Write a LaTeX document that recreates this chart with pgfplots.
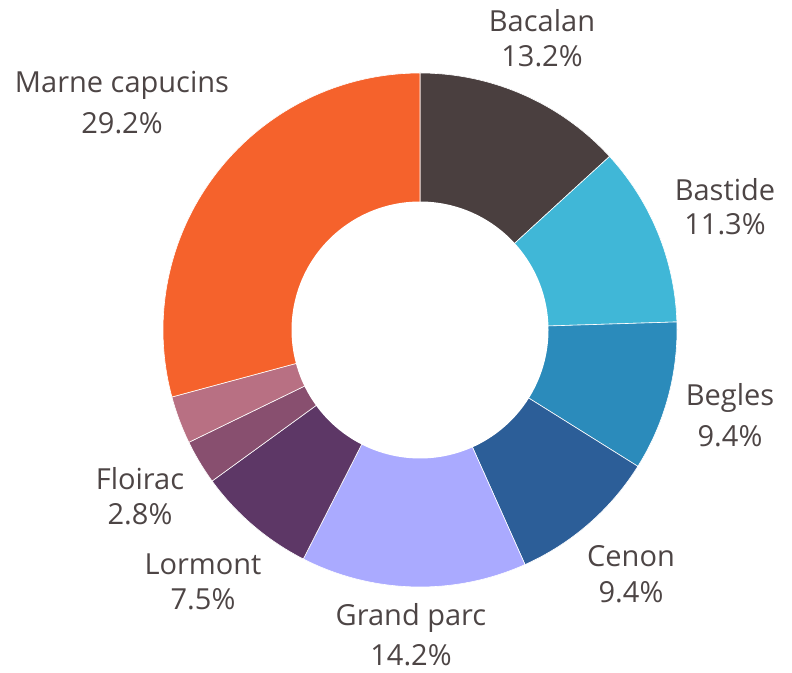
\documentclass[border=0pt]{standalone}
\usepackage{pgfplots}
\pgfplotsset{compat=1.18}
\usepackage{fontspec}
\setmainfont{Open Sans}
\definecolor{cBac}{HTML}{4A3F3F}
\definecolor{cBas}{HTML}{40B7D7}
\definecolor{cBeg}{HTML}{2B8BBB}
\definecolor{cCen}{HTML}{2C5E98}
\definecolor{cGra}{HTML}{AAAAFF}
\definecolor{cLor}{HTML}{5D3766}
\definecolor{cFlo}{HTML}{884F6F}
\definecolor{cOth}{HTML}{B87083}
\definecolor{cMar}{HTML}{F5622C}
\definecolor{txt}{HTML}{4D4545}
\begin{document}
\begin{tikzpicture}
\begin{axis}[
  scale only axis, width=396pt, height=336.5pt,
  xmin=0, xmax=792, ymin=0, ymax=673,
  axis lines=none, clip=false,
]
\path (axis cs:0,0) rectangle (axis cs:792,673);
\def\cum{0}
\foreach \v/\c in {13.2/cBac, 11.3/cBas, 9.4/cBeg, 9.4/cCen, 14.2/cGra, 7.5/cLor, 2.8/cFlo, 3.0/cOth, 29.2/cMar} {
  \pgfmathsetmacro\a{90-3.6*\cum}
  \pgfmathsetmacro\b{90-3.6*(\cum+\v)}
  \edef\tmp{\noexpand\addplot[fill=\c, draw=white, line width=0.3pt, domain=\b:\a, samples=80] ({420+257*cos(x)},{343+257*sin(x)}) -- (axis cs:420,343) -- cycle;}
  \tmp
  \pgfmathsetmacro\newcum{\cum+\v}
  \global\let\cum\newcum
}
\addplot[fill=white, draw=none, domain=0:360, samples=180] ({420+128.5*cos(x)},{343+128.5*sin(x)}) -- cycle;
\tikzset{lab/.style={anchor=base, text=txt, font=\fontsize{14.5}{17}\selectfont, inner sep=0pt}}
\node[lab] at (axis cs:542,641) {Bacalan};
\node[lab] at (axis cs:542,606) {13.2\%};
\node[lab] at (axis cs:725,472) {Bastide};
\node[lab] at (axis cs:725,438) {11.3\%};
\node[lab] at (axis cs:730,267) {Begles};
\node[lab] at (axis cs:730,226) {9.4\%};
\node[lab] at (axis cs:631,106) {Cenon};
\node[lab] at (axis cs:631,70) {9.4\%};
\node[lab] at (axis cs:411,47) {Grand parc};
\node[lab] at (axis cs:411,7) {14.2\%};
\node[lab] at (axis cs:203,98) {Lormont};
\node[lab] at (axis cs:203,63) {7.5\%};
\node[lab] at (axis cs:140,183) {Floirac};
\node[lab] at (axis cs:140,148) {2.8\%};
\node[lab] at (axis cs:122,580) {Marne capucins};
\node[lab] at (axis cs:122,539) {29.2\%};
\end{axis}
\end{tikzpicture}
\end{document}
